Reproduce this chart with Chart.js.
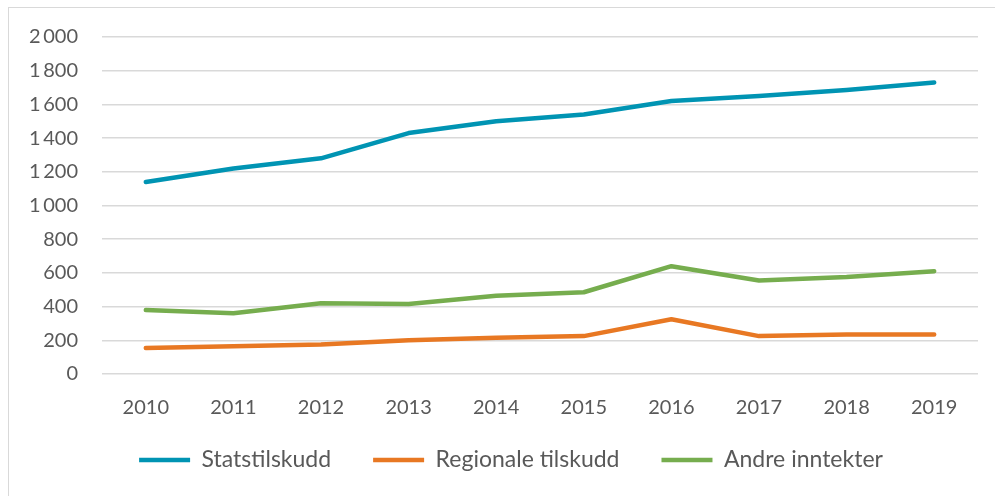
<!DOCTYPE html>
<html>
<head>
<meta charset="utf-8">
<script src="https://cdn.jsdelivr.net/npm/chart.js@4.4.1/dist/chart.umd.min.js"></script>
<style>
  body { margin: 0; background: #fff; }
  #frame { position: absolute; left: 8px; top: 7px; width: 1000px; height: 500px; border: 1px solid #d9d9d9; }
  #myChart { position: absolute; left: 0; top: 0; }
</style>
</head>
<body>
<div id="frame"></div>
<canvas id="myChart" width="995" height="496"></canvas>
<script>
const years = ['2010', '2011', '2012', '2013', '2014', '2015', '2016', '2017', '2018', '2019'];
const statstilskudd = [1140, 1220, 1280, 1430, 1500, 1540, 1620, 1650, 1685, 1730];
const regionale = [155, 165, 175, 200, 215, 225, 325, 225, 235, 235];
const andre = [380, 360, 420, 415, 465, 485, 640, 555, 575, 610];

const textColor = '#595959';
const fontFamily = 'Lato, "Noto Sans", sans-serif';

function line(label, data, color) {
    return {
        label: label,
        data: data,
        borderColor: color,
        backgroundColor: color,
        borderWidth: 4.5,
        borderCapStyle: 'round',
        borderJoinStyle: 'round',
        pointRadius: 0,
        pointStyle: 'line',
        tension: 0
    };
}

// legend padding is both horizontal and vertical, so move the legend box a bit after layout
const legendNudge = {
    id: 'legendNudge',
    afterLayout(chart) {
        const lg = chart.legend;
        lg.top -= 14.5;
        lg.bottom -= 14.5;
        lg.left += 22;
        lg.right += 22;
    }
};

let ctx = document.getElementById('myChart').getContext('2d');

new Chart(ctx, {
    type: 'line',
    data: {
        labels: years,
        datasets: [
            line('Statstilskudd', statstilskudd, 'rgb(0,148,179)'),
            line('Regionale tilskudd', regionale, 'rgb(232,120,35)'),
            line('Andre inntekter', andre, 'rgb(118,173,78)')
        ]
    },
    plugins: [legendNudge],
    options: {
        responsive: false,
        animation: false,
        layout: { padding: { top: 37, right: 17, bottom: 0, left: 0 } },
        scales: {
            x: {
                offset: true,
                grid: { display: false },
                border: { display: false },
                ticks: { color: textColor, font: { family: fontFamily, size: 20 }, padding: 14, maxRotation: 0 },
                afterFit: s => { s.height = 47; }
            },
            y: {
                min: 0,
                max: 2000,
                grid: { color: '#d9d9d9', lineWidth: 1.5, drawTicks: false },
                border: { display: false },
                ticks: {
                    stepSize: 200,
                    color: textColor,
                    padding: 24,
                    font: { family: fontFamily, size: 20 },
                    callback: v => String(v).replace(/\B(?=(\d{3})+(?!\d))/g, '\u2009')
                },
                afterFit: s => { s.width = 102; }
            }
        },
        plugins: {
            tooltip: { enabled: false },
            legend: {
                position: 'bottom',
                labels: {
                    usePointStyle: true,
                    pointStyleWidth: 51,
                    padding: 42,
                    color: textColor,
                    font: { family: fontFamily, size: 23 }
                }
            }
        }
    }
});
</script>
</body>
</html>
